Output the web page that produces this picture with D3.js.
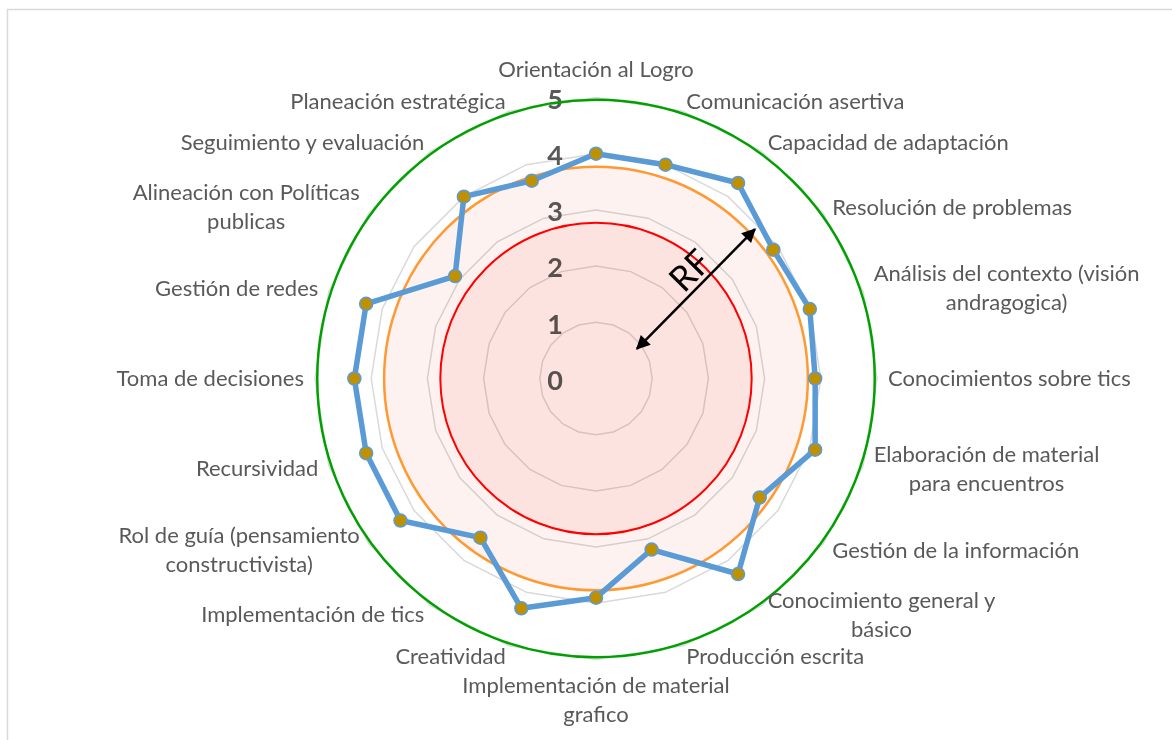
<!DOCTYPE html>
<html>
<head>
<meta charset="utf-8">
<script src="https://cdn.jsdelivr.net/npm/d3@7/dist/d3.min.js"></script>
<style>
  body { margin: 0; background: #fff; }
  svg { display: block; }
</style>
</head>
<body>
<div id="chart_wrapper"></div>
<script>
var categories = [
  "Orientación al Logro", "Comunicación asertiva", "Capacidad de adaptación",
  "Resolución de problemas", "Análisis del contexto (visión\nandragogica)",
  "Conocimientos sobre tics", "Elaboración de material\npara encuentros",
  "Gestión de la información", "Conocimiento general y\nbásico", "Producción escrita",
  "Implementación de material\ngrafico", "Creatividad", "Implementación de tics",
  "Rol de guía (pensamiento\nconstructivista)", "Recursividad", "Toma de decisiones",
  "Gestión de redes", "Alineación con Políticas\npublicas", "Seguimiento y evaluación",
  "Planeación estratégica"
];
var values = [4.0, 4.0, 4.3, 3.9, 4.0, 3.9, 4.1, 3.6, 4.3, 3.2, 3.9, 4.3, 3.5, 4.3, 4.3, 4.3, 4.3, 3.1, 4.0, 3.7];
var ticks = [0, 1, 2, 3, 4, 5];
// reference circles (outer green, orange band, red core)
var refLevels = [4.96, 3.77, 2.77];
// RF arrow ends: [value, angle in degrees]
var arrowEnds = [[0.9, 54], [3.88, 46.8]];

var wrapperWidth = 1172, wrapperHeight = 740;
var cx = 596, cy = 378.5;

var svg = d3.select("#chart_wrapper").append("svg")
    .attr("width", wrapperWidth).attr("height", wrapperHeight);

// chart frame
svg.append("rect")
    .attr("x", 7.5).attr("y", 9.5).attr("width", 1300).attr("height", 900)
    .attr("fill", "none").attr("stroke", "#d9d9d9").attr("stroke-width", 1.5);

var r = d3.scaleLinear().domain([0, 5]).range([0, 281]);
var step = 2 * Math.PI / categories.length;
var angle = function(i) { return i * step; };

var g = svg.append("g").attr("transform", "translate(" + cx + "," + cy + ")");

// grid polygons
var gridLine = d3.lineRadial()
    .angle(function(d, i) { return angle(i); })
    .curve(d3.curveLinearClosed);

g.append("g").attr("class", "grid")
  .selectAll("path")
  .data(ticks.slice(1))
  .enter().append("path")
    .attr("d", function(t) { return gridLine.radius(r(t))(categories); })
    .attr("fill", "none")
    .attr("stroke", "#d9d9d9")
    .attr("stroke-width", 1.5);

// tick labels
g.append("g").attr("class", "ticks")
  .selectAll("text")
  .data(ticks)
  .enter().append("text")
    .attr("x", -33)
    .attr("y", function(t) { return -r(t); })
    .attr("dy", "0.42em")
    .attr("text-anchor", "end")
    .attr("font-family", "Lato, 'Open Sans', sans-serif")
    .attr("font-weight", "bold")
    .attr("font-size", 27)
    .attr("fill", "#595959")
    .text(function(t) { return t; });

// pink fills, multiplied over grid and labels
g.append("circle")
    .attr("r", r(refLevels[1]))
    .attr("fill", "#fdf2f0")
    .style("mix-blend-mode", "multiply");
g.append("circle")
    .attr("r", r(refLevels[2]))
    .attr("fill", "#fff0ee")
    .style("mix-blend-mode", "multiply");

// reference circles
var refColors = ["#00a000", "#ff9933", "#ff0000"];
g.append("g").attr("class", "refs")
  .selectAll("circle")
  .data(refLevels)
  .enter().append("circle")
    .attr("r", function(d) { return r(d); })
    .attr("fill", "none")
    .attr("stroke", function(d, i) { return refColors[i]; })
    .attr("stroke-width", function(d, i) { return i == 2 ? 2 : 2.5; });

// series
var seriesLine = d3.lineRadial()
    .angle(function(d, i) { return angle(i); })
    .radius(function(d) { return r(d); })
    .curve(d3.curveLinearClosed);

g.append("path")
    .datum(values)
    .attr("d", seriesLine)
    .attr("fill", "none")
    .attr("stroke", "#5b9bd5")
    .attr("stroke-width", 5.5)
    .attr("stroke-linejoin", "round");

g.append("g").attr("class", "markers")
  .selectAll("circle")
  .data(values)
  .enter().append("circle")
    .attr("cx", function(d, i) { return r(d) * Math.sin(angle(i)); })
    .attr("cy", function(d, i) { return -r(d) * Math.cos(angle(i)); })
    .attr("r", 6.5)
    .attr("fill", "#bf9000")
    .attr("stroke", "#5b9bd5")
    .attr("stroke-width", 1.5);

// RF arrow
var defs = svg.append("defs");
defs.append("marker")
    .attr("id", "head")
    .attr("viewBox", "0 0 10 10")
    .attr("refX", 9).attr("refY", 5)
    .attr("markerUnits", "userSpaceOnUse")
    .attr("orient", "auto-start-reverse")
    .attr("markerWidth", 18).attr("markerHeight", 14)
  .append("path")
    .attr("d", "M0,0 L10,5 L0,10 Z")
    .attr("fill", "#000");

var ap = arrowEnds.map(function(a) {
  var t = a[1] * Math.PI / 180;
  return [r(a[0]) * Math.sin(t), -r(a[0]) * Math.cos(t)];
});
g.append("line")
    .attr("x1", ap[0][0]).attr("y1", ap[0][1])
    .attr("x2", ap[1][0]).attr("y2", ap[1][1])
    .attr("stroke", "#000")
    .attr("stroke-width", 2.5)
    .attr("marker-start", "url(#head)")
    .attr("marker-end", "url(#head)");

var mid = [(ap[0][0] + ap[1][0]) / 2, (ap[0][1] + ap[1][1]) / 2];
var rot = Math.atan2(ap[1][1] - ap[0][1], ap[1][0] - ap[0][0]) * 180 / Math.PI;
g.append("text")
    .attr("transform", "translate(" + mid[0] + "," + mid[1] + ") rotate(" + rot + ")")
    .attr("x", 9)
    .attr("y", -5)
    .attr("text-anchor", "middle")
    .attr("font-family", "Lato, 'Open Sans', sans-serif")
    .attr("font-size", 35)
    .attr("fill", "#000")
    .text("RF");

// category labels
var labelR = r(5) + 11, lineH = 29;
var labels = g.append("g").attr("class", "labels")
  .selectAll("text")
  .data(categories)
  .enter().append("text")
    .attr("font-family", "Lato, 'Open Sans', sans-serif")
    .attr("font-size", 22)
    .attr("fill", "#595959")
    .attr("text-anchor", "middle");

labels.each(function(d, i) {
  var el = d3.select(this);
  var lines = d.split("\n");
  lines.forEach(function(l) {
    el.append("tspan").text(l);
  });
  var w = 0;
  el.selectAll("tspan").each(function() { w = Math.max(w, this.getComputedTextLength()); });
  var a = angle(i), s = Math.sin(a), c = Math.cos(a);
  var ax = labelR * s, ay = -labelR * c;
  var h = lines.length * lineH;
  var x = ax, yc = ay;
  if (Math.abs(s) > 1e-6) x = ax + (s > 0 ? w / 2 : -w / 2);
  if (Math.abs(s) < 1e-6) yc = c > 0 ? ay - h / 2 - 3 : ay + h / 2;
  el.selectAll("tspan")
    .attr("x", x)
    .attr("y", function(l, k) { return yc + (k - (lines.length - 1) / 2) * lineH; })
    .attr("dy", "0.35em");
});
</script>
</body>
</html>
